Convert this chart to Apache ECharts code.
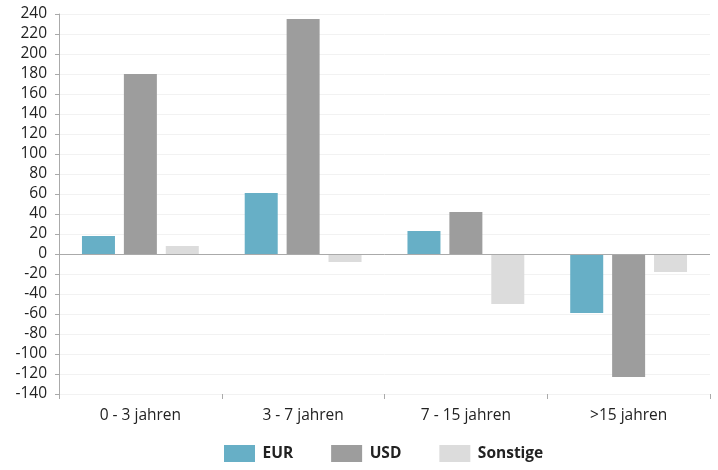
<!DOCTYPE html>
<html><head><meta charset="utf-8">
<script src="https://cdn.jsdelivr.net/npm/echarts@6/dist/echarts.min.js"></script>
<style>html,body{margin:0;padding:0;background:#fff}#c{width:718px;height:470px}</style>
</head><body><div id="c"></div>
<script>
const categories = ["0 - 3 jahren", "3 - 7 jahren", "7 - 15 jahren", ">15 jahren"];
const eurValues = [18, 61, 23, -59];
const usdValues = [180, 235, 42, -123];
const sonstigeValues = [8, -8, -50, -18];
const seriesNames = ["EUR", "USD", "Sonstige"];
const colors = ["#67afc6", "#9d9d9d", "#dcdcdc"];

const chart = echarts.init(document.getElementById('c'), null, {renderer: 'canvas'});
const font = "'Open Sans', 'Noto Sans', sans-serif";
chart.setOption({
  animation: false,
  textStyle: {fontFamily: font},
  grid: {left: 59, right: 8, top: 14, bottom: 76, containLabel: false},
  legend: {
    top: 445, left: 224, itemWidth: 31, itemHeight: 17, itemGap: 38,
    icon: 'rect', padding: 0,
    textStyle: {fontFamily: font, fontSize: 15.5, fontWeight: 'bold', color: '#222', padding: [4, 0, 0, 2.5]},
    data: seriesNames
  },
  xAxis: {
    type: 'category', data: categories,
    axisLine: {show: false, onZero: false},
    axisTick: {show: true, length: 5, lineStyle: {color: '#aaa'}},
    axisLabel: {fontSize: 15.5, color: '#222', margin: 14, fontFamily: font}
  },
  yAxis: {
    type: 'value', min: -140, max: 240, interval: 20,
    axisLine: {show: true, lineStyle: {color: '#aaa'}},
    axisTick: {show: true, length: 4, lineStyle: {color: '#aaa'}},
    axisLabel: {fontSize: 15.5, color: '#222', margin: 12, fontFamily: font},
    splitLine: {show: true, lineStyle: {color: '#f2f2f2'}}
  },
  series: [
    {name: seriesNames[0], type: 'bar', data: eurValues, barWidth: 33, barGap: '27%', itemStyle: {color: colors[0]},
     markLine: {silent: true, symbol: 'none', label: {show: false}, lineStyle: {color: '#aaa', type: 'solid', width: 1}, data: [{yAxis: 0}]}},
    {name: seriesNames[1], type: 'bar', data: usdValues, barWidth: 33, barGap: '27%', itemStyle: {color: colors[1]}},
    {name: seriesNames[2], type: 'bar', data: sonstigeValues, barWidth: 33, barGap: '27%', itemStyle: {color: colors[2]}}
  ]
});
</script></body></html>
